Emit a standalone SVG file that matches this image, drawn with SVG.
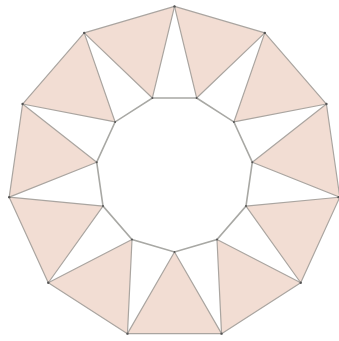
<svg xmlns="http://www.w3.org/2000/svg" width="339" height="341" viewBox="0 0 339 341">
<style>
.tri{fill:#f2ddd3;stroke:#aaa5a0;stroke-width:1.2;stroke-linejoin:round}
.edge{stroke:#a8a8a4;stroke-width:1.6;fill:none}
.dot{fill:#555}
</style>
<rect width="339" height="341" fill="#ffffff"/>
<g id="triangles">
<g id="t0"><polygon class="tri" points="174.5,6.4 264.79,32.91 196.64,97.98"/></g>
<g id="t1"><polygon class="tri" points="264.79,32.91 326.41,104.02 233.90,121.93"/></g>
<g id="t2"><polygon class="tri" points="326.41,104.02 339.80,197.17 252.30,162.21"/></g>
<g id="t3"><polygon class="tri" points="339.80,197.17 300.71,282.76 246.00,206.05"/></g>
<g id="t4"><polygon class="tri" points="300.71,282.76 221.55,333.63 216.99,239.52"/></g>
<g id="t5"><polygon class="tri" points="221.55,333.63 127.45,333.63 174.5,252.0"/></g>
<g id="t6"><polygon class="tri" points="127.45,333.63 48.29,282.76 132.01,239.52"/></g>
<g id="t7"><polygon class="tri" points="48.29,282.76 9.20,197.17 103.00,206.05"/></g>
<g id="t8"><polygon class="tri" points="9.20,197.17 22.59,104.02 96.70,162.21"/></g>
<g id="t9"><polygon class="tri" points="22.59,104.02 84.21,32.91 115.10,121.93"/></g>
<g id="t10"><polygon class="tri" points="84.21,32.91 174.5,6.4 152.36,97.98"/></g>
</g>
<g id="connectors">
<polygon class="edge" points="196.64,97.98 233.90,121.93 252.30,162.21 246.00,206.05 216.99,239.52 174.5,252.0 132.01,239.52 103.00,206.05 96.70,162.21 115.10,121.93 152.36,97.98"/>
</g>
<g id="vertices">
<circle class="dot" cx="174.5" cy="6.4" r="1.2"/>
<circle class="dot" cx="264.79" cy="32.91" r="1.2"/>
<circle class="dot" cx="326.41" cy="104.02" r="1.2"/>
<circle class="dot" cx="338.6" cy="197.17" r="1.2"/>
<circle class="dot" cx="300.71" cy="282.76" r="1.2"/>
<circle class="dot" cx="221.55" cy="333.63" r="1.2"/>
<circle class="dot" cx="127.45" cy="333.63" r="1.2"/>
<circle class="dot" cx="48.29" cy="282.76" r="1.2"/>
<circle class="dot" cx="9.20" cy="197.17" r="1.2"/>
<circle class="dot" cx="22.59" cy="104.02" r="1.2"/>
<circle class="dot" cx="84.21" cy="32.91" r="1.2"/>
<circle class="dot" cx="196.64" cy="97.98" r="1"/>
<circle class="dot" cx="233.90" cy="121.93" r="1"/>
<circle class="dot" cx="252.30" cy="162.21" r="1"/>
<circle class="dot" cx="246.00" cy="206.05" r="1"/>
<circle class="dot" cx="216.99" cy="239.52" r="1"/>
<circle class="dot" cx="174.5" cy="252.0" r="1"/>
<circle class="dot" cx="132.01" cy="239.52" r="1"/>
<circle class="dot" cx="103.00" cy="206.05" r="1"/>
<circle class="dot" cx="96.70" cy="162.21" r="1"/>
<circle class="dot" cx="115.10" cy="121.93" r="1"/>
<circle class="dot" cx="152.36" cy="97.98" r="1"/>
</g>
</svg>
